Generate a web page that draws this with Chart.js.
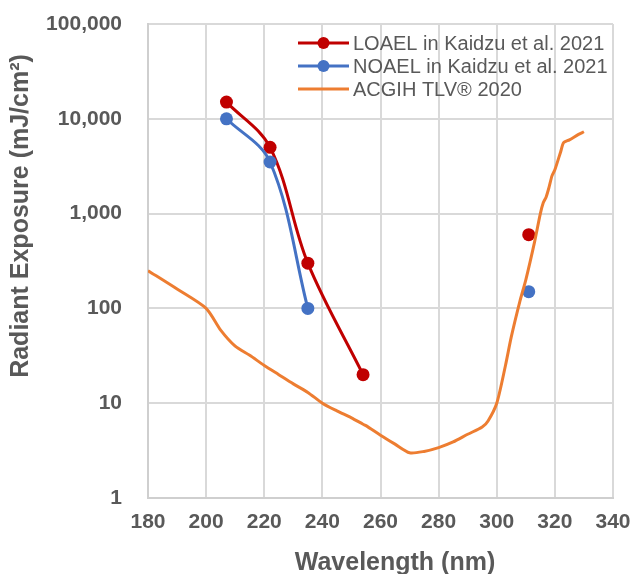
<!DOCTYPE html>
<html>
<head>
<meta charset="utf-8">
<script src="https://cdn.jsdelivr.net/npm/chart.js@4/dist/chart.umd.min.js"></script>
<style>
  html, body { margin: 0; padding: 0; background: #fff; }
  #wrap { width: 636px; height: 574px; }
</style>
</head>
<body>
<div id="wrap"><canvas id="uv-chart"></canvas></div>
<script>
// Chart data
const loaelWl = [207, 222, 235, 254];
const loaelVal = [15000, 5000, 300, 20];
const loaelUvbWl = [311];
const loaelUvbVal = [600];

const noaelWl = [207, 222, 235];
const noaelVal = [10000, 3500, 100];
const noaelUvbWl = [311];
const noaelUvbVal = [150];

const tlvWl = [180, 190, 200, 205, 210, 215, 220, 225, 230, 235, 240, 245, 250, 254, 255,
  260, 265, 270, 275, 280, 285, 290, 295, 297, 300, 303, 305, 308, 310, 313, 315, 316,
  317, 318, 319, 320, 322, 323, 325, 328, 330];
const tlvVal = [250, 160, 100, 59, 40, 32, 25, 20, 16, 13, 10, 8.3, 7.0, 6.0, 5.8,
  4.6, 3.7, 3.0, 3.1, 3.4, 3.9, 4.7, 5.6, 6.5, 10, 25, 50, 120, 200, 500, 1000, 1300,
  1500, 1900, 2500, 2900, 4500, 5600, 6000, 6800, 7300];

const yTicks = [1, 10, 100, 1000, 10000, 100000];

const legendLabels = ['LOAEL in Kaidzu et al. 2021', 'NOAEL in Kaidzu et al. 2021', 'ACGIH TLV® 2020'];
const xTitle = 'Wavelength (nm)';
const yTitle = 'Radiant Exposure (mJ/cm²)';

const RED = '#C00000';
const BLUE = '#4472C4';
const ORANGE = '#ED7D31';
const TEXT = '#595959';
const GRID = '#d9d9d9';
const FONT = '"Liberation Sans", Arial, sans-serif';

function toPoints(xs, ys) {
  return xs.map((x, i) => ({ x: x, y: ys[i] }));
}

// Legend drawn inside the plot area, top right
const insideLegend = {
  id: 'insideLegend',
  afterDraw(chart) {
    const ctx = chart.ctx;
    const items = [
      { text: legendLabels[0], color: RED, marker: true },
      { text: legendLabels[1], color: BLUE, marker: true },
      { text: legendLabels[2], color: ORANGE, marker: false }
    ];
    const x0 = 298, x1 = 349, y0 = 43, step = 23;
    ctx.save();
    ctx.font = '20px ' + FONT;
    ctx.textBaseline = 'middle';
    items.forEach((item, i) => {
      const y = y0 + i * step;
      ctx.strokeStyle = item.color;
      ctx.lineWidth = 3;
      ctx.beginPath();
      ctx.moveTo(x0, y);
      ctx.lineTo(x1, y);
      ctx.stroke();
      if (item.marker) {
        ctx.fillStyle = item.color;
        ctx.beginPath();
        ctx.arc((x0 + x1) / 2, y, 6, 0, Math.PI * 2);
        ctx.fill();
      }
      ctx.fillStyle = TEXT;
      ctx.fillText(item.text, x1 + 4, y + 1);
    });
    ctx.restore();
  }
};

// Axis titles, placed like the original (not centred on the plot)
const axisTitles = {
  id: 'axisTitles',
  afterDraw(chart) {
    const ctx = chart.ctx;
    ctx.save();
    ctx.font = 'bold 25px ' + FONT;
    ctx.fillStyle = TEXT;
    ctx.textAlign = 'center';
    ctx.textBaseline = 'alphabetic';
    ctx.fillText(xTitle, 395, 570);
    ctx.translate(28, 216);
    ctx.rotate(-Math.PI / 2);
    ctx.fillText(yTitle, 0, 0);
    ctx.restore();
  }
};

const lineStyle = (color, points) => ({
  borderColor: color,
  backgroundColor: color,
  borderWidth: 3,
  pointRadius: points ? 6.5 : 0,
  pointHoverRadius: points ? 6.5 : 0,
  pointBorderWidth: 0,
  fill: false
});

new Chart(document.getElementById('uv-chart'), {
  type: 'line',
  data: {
    datasets: [
      Object.assign({ label: 'ACGIH', data: toPoints(tlvWl, tlvVal), tension: 0.25 }, lineStyle(ORANGE, false)),
      Object.assign({ label: 'NOAEL', data: toPoints(noaelWl, noaelVal), tension: 0.35 }, lineStyle(BLUE, true)),
      Object.assign({ label: 'NOAEL UVB', data: toPoints(noaelUvbWl, noaelUvbVal), showLine: false }, lineStyle(BLUE, true)),
      Object.assign({ label: 'LOAEL', data: toPoints(loaelWl, loaelVal), tension: 0.35 }, lineStyle(RED, true)),
      Object.assign({ label: 'LOAEL UVB', data: toPoints(loaelUvbWl, loaelUvbVal), showLine: false }, lineStyle(RED, true))
    ]
  },
  options: {
    responsive: true,
    maintainAspectRatio: false,
    animation: false,
    layout: { padding: { top: 24, right: 23, left: 0, bottom: 0 } },
    plugins: {
      legend: { display: false },
      tooltip: { enabled: false }
    },
    scales: {
      x: {
        type: 'linear',
        min: 180,
        max: 340,
        ticks: {
          stepSize: 20,
          color: TEXT,
          padding: 12,
          font: { family: FONT, size: 21, weight: 'bold' }
        },
        grid: { color: GRID, lineWidth: 2, drawTicks: false },
        border: { color: '#cfcfcf', width: 2 },
        afterFit(scale) {
          scale.height = 76;
          scale.paddingLeft = 0;
          scale.paddingRight = 0;
        }
      },
      y: {
        type: 'logarithmic',
        min: 1,
        max: 100000,
        afterBuildTicks(scale) {
          scale.ticks = yTicks.map(v => ({ value: v }));
        },
        ticks: {
          color: TEXT,
          padding: 26,
          font: { family: FONT, size: 21, weight: 'bold' },
          callback: value => Number(value).toLocaleString('en-US')
        },
        grid: { color: GRID, lineWidth: 2, drawTicks: false },
        border: { color: '#cfcfcf', width: 2 },
        afterFit(scale) {
          scale.width = 148;
          scale.paddingTop = 0;
          scale.paddingBottom = 0;
        }
      }
    }
  },
  plugins: [insideLegend, axisTitles]
});
</script>
</body>
</html>
